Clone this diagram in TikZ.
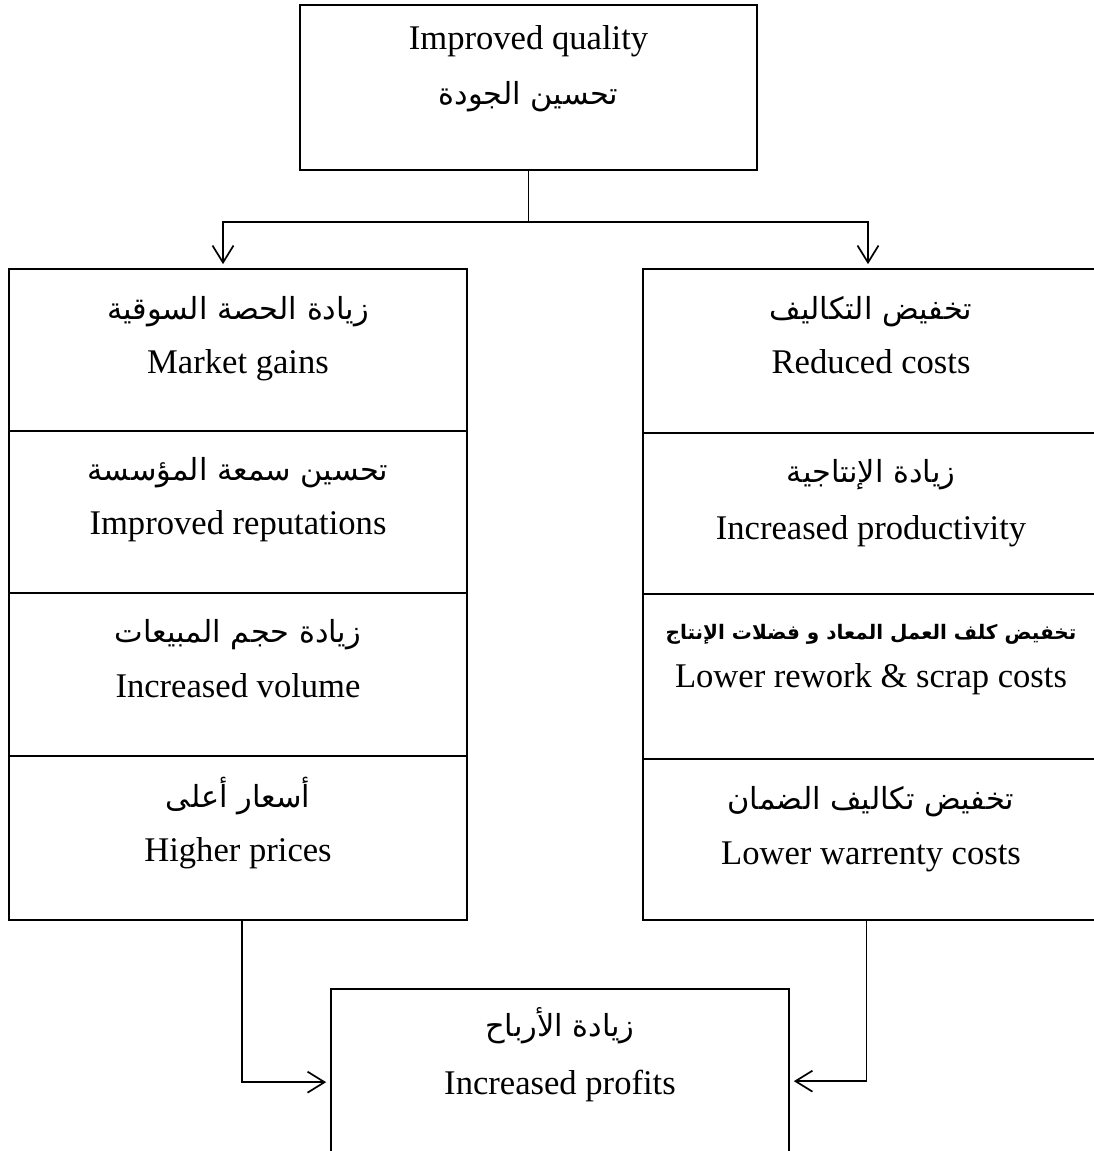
\documentclass[tikz,border=0pt]{standalone}
\usepackage{fontspec}
\setmainfont{Liberation Serif}
\newfontfamily\arabicfont[Script=Arabic]{DejaVu Sans}
\TeXXeTstate=1
\usetikzlibrary{arrows.meta,calc}

\tikzset{
  cell/.style={draw, line width=1.7pt, rectangle, minimum width=#1, inner sep=0pt},
  en/.style={anchor=base, inner sep=0pt, font=\fontsize{34.6}{40}\selectfont},
  ar/.style={anchor=base, inner sep=0pt, font=\arabicfont\fontsize{30.4}{36}\selectfont},
  arb/.style={anchor=base, inner sep=0pt, font=\arabicfont\bfseries\fontsize{20}{24}\selectfont},
  link/.style={line width=1.7pt},
  arr/.style={link, -{Straight Barb[length=17pt,width=21pt,line width=1.7pt]}, shorten >=4pt}
}

\begin{document}
\begin{tikzpicture}[x=1pt,y=-1pt]
  \useasboundingbox (0,0) rectangle (1094,1151);
  \clip (0,0) rectangle (1094,1151);

  % top box
  \node[cell=457pt, minimum height=165pt] (top) at (528.5,87.5) {};
  \node[en] (topen) at (528.5,49) {Improved quality};
  \node[ar] (topar) at (528.5,104) {\beginR تحسين الجودة\endR};

  % left column: market side
  \node[cell=458pt, minimum height=162pt] (L1) at (238,350) {};
  \node[cell=458pt, minimum height=162pt] (L2) at (238,512) {};
  \node[cell=458pt, minimum height=163pt] (L3) at (238,674.5) {};
  \node[cell=458pt, minimum height=164pt] (L4) at (238,838) {};
  \node[ar] (L1ar) at (238,319) {\beginR زيادة الحصة السوقية\endR};
  \node[en] (L1en) at (238,373) {Market gains};
  \node[ar] (L2ar) at (238,480) {\beginR تحسين سمعة المؤسسة\endR};
  \node[en] (L2en) at (238,534) {Improved reputations};
  \node[ar] (L3ar) at (238,642) {\beginR زيادة حجم المبيعات\endR};
  \node[en] (L3en) at (238,697) {Increased volume};
  \node[ar] (L4ar) at (238,807) {\beginR أسعار أعلى\endR};
  \node[en] (L4en) at (238,861) {Higher prices};

  % right column: cost side
  \node[cell=457pt, minimum height=164pt] (R1) at (871.5,351) {};
  \node[cell=457pt, minimum height=161pt] (R2) at (871.5,513.5) {};
  \node[cell=457pt, minimum height=165pt] (R3) at (871.5,676.5) {};
  \node[cell=457pt, minimum height=161pt] (R4) at (871.5,839.5) {};
  \node[ar] (R1ar) at (871,319) {\beginR تخفيض التكاليف\endR};
  \node[en] (R1en) at (871,373) {Reduced costs};
  \node[ar] (R2ar) at (871,482) {\beginR زيادة الإنتاجية\endR};
  \node[en] (R2en) at (871,539) {Increased productivity};
  \node[arb] (R3ar) at (871,639) {\beginR تخفيض كلف العمل المعاد و فضلات الإنتاج\endR};
  \node[en] (R3en) at (871,687) {Lower rework \& scrap costs};
  \node[ar] (R4ar) at (871,809) {\beginR تخفيض تكاليف الضمان\endR};
  \node[en] (R4en) at (871,864) {Lower warrenty costs};

  % bottom box
  \node[cell=458pt, minimum height=175pt] (bot) at (560,1076.5) {};
  \node[ar] (botar) at (560,1036) {\beginR زيادة الأرباح\endR};
  \node[en] (boten) at (560,1094) {Increased profits};

  % connectors
  \coordinate (fork) at (528.5,222);
  \draw[link] (top.south) -- (fork);
  \draw[arr] (fork) -| ([xshift=-15pt]L1.north);
  \draw[arr] (fork) -| ([xshift=-3.5pt]R1.north);
  \draw[arr] ([xshift=4pt]L4.south) |- ($(bot.north west)+(0,94)$);
  \draw[arr] ([xshift=-5pt]R4.south) |- ($(bot.north east)+(0,93)$);
\end{tikzpicture}
\end{document}
